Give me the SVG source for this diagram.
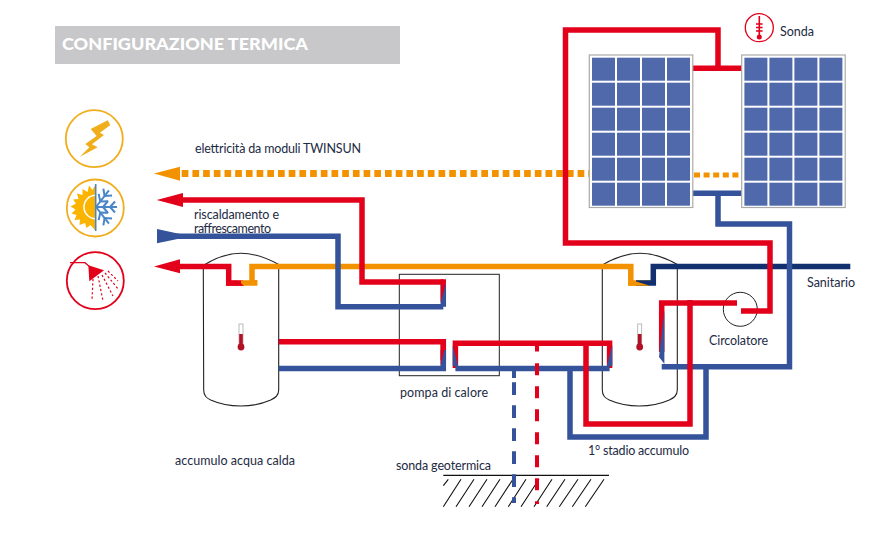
<svg xmlns="http://www.w3.org/2000/svg" width="879" height="534" viewBox="0 0 879 534">
<style>
text{font-family:"Lato","Liberation Sans",sans-serif;font-size:12.5px;fill:#1d2a44}
.p{fill:none;stroke-width:5.5;stroke-linejoin:miter}
.r{stroke:#e2001a}.b{stroke:#35539b}.o{stroke:#f39200}.n{stroke:#12306f}
.tank{fill:none;stroke:#222;stroke-width:1.1}
.cell{fill:#4f69ab}
.frame{fill:#fff;stroke:#aaa;stroke-width:1.2}
.fr{fill:#e2001a}.fb{fill:#35539b}.fo{fill:#f39200}.fn{fill:#12306f}
</style>
<defs>
<g id="col">
<rect class="cell" x="2.7" y="2.7" width="23" height="23"/><rect class="cell" x="2.7" y="27.7" width="23" height="23"/><rect class="cell" x="2.7" y="52.7" width="23" height="23"/><rect class="cell" x="2.7" y="77.7" width="23" height="23"/><rect class="cell" x="2.7" y="102.7" width="23" height="23"/><rect class="cell" x="2.7" y="127.7" width="23" height="23"/>
</g>
<g id="panel">
<rect class="frame" x="0" y="0" width="103.5" height="152.5"/>
<use href="#col"/><use href="#col" x="25"/><use href="#col" x="50"/><use href="#col" x="75"/>
</g>
<g id="thermo">
<rect x="-2" y="0" width="4" height="22" fill="#fff" stroke="#aaa" stroke-width="0.8"/>
<rect x="-1.8" y="10" width="3.6" height="14" fill="#b30f25"/>
<circle cx="0" cy="23" r="3.4" fill="#b30f25"/>
</g>
<g id="branch" fill="none" stroke="#4a86c8" stroke-width="2">
<path d="M96 207H117"/>
<path d="M103 207L108 201M103 207L108 213M110 207L115 201.5M110 207L115 212.5"/>
</g>
</defs>

<g id="title">
<rect x="55" y="26" width="345" height="38" fill="#c8c8ca"/>
<text x="62" y="50" style="font-size:17px;font-weight:900;fill:#fff" textLength="246" lengthAdjust="spacingAndGlyphs">CONFIGURAZIONE TERMICA</text>
</g>

<g id="icon-elettricita">
<circle cx="94.3" cy="138.7" r="28.5" fill="#fff" stroke="#f0ae1c" stroke-width="1.8"/>
<polygon transform="translate(60 105) scale(.3333)" points="143,46 151,60 120,83 132,90 96,118 113,127 60,155 88,127 76,117 110,93 92,72" fill="#f0ae1c"/>
</g>
<g id="icon-clima">
<circle cx="95.3" cy="208" r="28.5" fill="#fff" stroke="#f0ae1c" stroke-width="1.8"/>
<polygon points="95.7,184 92.5,190 89,185.5 87.5,192 82.5,189 82.5,195 77,193.5 78.5,199 73,199.5 76,203.5 70.5,206.5 75.5,209.5 71.5,213.5 76.5,215 74.5,220 80,219.5 79.5,225 85,223 86.5,228 90.5,225 95.7,231" fill="#fbb400"/>
<path d="M95.7 194.5a12.5 12.5 0 0 0 0 25z" fill="#fff"/>
<path d="M95.7 196a11 11 0 0 0 0 22z" fill="#fbb400"/>
<path d="M95.7 184V231" stroke="#4a86c8" stroke-width="1.6" fill="none"/>
<use href="#branch" transform="rotate(-52 96 207)"/>
<use href="#branch"/>
<use href="#branch" transform="rotate(52 96 207)"/>
</g>
<g id="icon-sanitario">
<circle cx="95.3" cy="280.7" r="28.5" fill="#fff" stroke="#e2001a" stroke-width="1.8"/>
<path d="M70 262.7H85L90 267" fill="none" stroke="#e2001a" stroke-width="1.2"/>
<polygon points="88.3,265.3 104,270.3 89.3,281.3" fill="#e2001a"/>
<g stroke="#e2001a" stroke-width="1.2" fill="none" stroke-dasharray="2.2 2.2">
<path d="M93 279L92 300M98 276L103 301M102 275L113 296M105 273L119 290M108 271L118 281"/>
</g>
</g>

<g id="tank-left">
<path class="tank" d="M203.3 265.5C215 258 228 253.3 241 253.3S267 258 278.7 264.5V390c0 6-4 8-8 10c-18 8-42 8-60 0c-4-2-7-4-7-10z"/>
<use href="#thermo" x="241" y="324"/>
</g>
<g id="tank-right">
<path class="tank" d="M602.3 265C614 258 627 253.3 640 253.3S666 258 677.3 264.5V390c0 6-4 8-8 10c-18 8-42 8-60 0c-4-2-7-4-7-10z"/>
<use href="#thermo" x="639.7" y="324"/>
</g>
<g id="pompa">
<rect x="399.3" y="274.3" width="100" height="101.4" fill="none" stroke="#222" stroke-width="1"/>
</g>
<g id="circolatore">
<circle cx="740.3" cy="309.3" r="17" fill="none" stroke="#222" stroke-width="1"/>
</g>
<g id="ground">
<path d="M443.3 475.3H609" stroke="#111" stroke-width="1.3" fill="none"/>
<path d="M443.3 485.7L448.3 479.3M443.3 506.7L461 479.3M456 506.7L474 479.3M469 506.7L487 479.3M482 506.7L500 479.3M495 506.7L513 479.3M508.3 506.7L526 479.3M521 506.7L539 479.3M534 506.7L552 479.3M546.7 506.7L565 479.3M559.3 506.7L578 479.3M572.3 506.7L591 479.3M585.3 506.7L604 479.3" stroke="#111" stroke-width="1.1" fill="none"/>
</g>

<g id="connectors">
<path d="M181.7 173.5H589" fill="none" stroke="#f39200" stroke-width="7" stroke-dasharray="6.7 4"/>
<polygon class="fo" points="154,173.5 180,166.7 180,180.7"/>
<path d="M694 175H742" fill="none" stroke="#f39200" stroke-width="5" stroke-dasharray="6 3.6"/>

<path class="p o" d="M252 283V266.5H630.8V283H650"/>
<path class="p n" d="M636 283H653.3V266.5H850.3"/>
<polygon class="fo" points="628.3,280.7 633.5,280.7 650,285.7 628.3,285.7"/>
<path class="p r" d="M180 266.5H228.7V283H243"/>
<path class="p o" d="M241 283H254.7V280"/>
<polygon class="fr" points="226,280.7 238,280.7 244,285.7 226,285.7"/>
<polygon class="fr" points="154,266.5 180,259.3 180,273.3"/>

<path class="p b" d="M172 236.3H338V306.8H443.3"/>
<path class="p r" d="M180 200H362V282H443.3"/>
<polygon class="fb" points="157,229 180,234 180,238.6 157,243.3"/>
<polygon class="fr" points="156.7,200 183,193 183,207"/>

<g id="pipes-pompa">
<path class="p r" d="M278.7 341.8H443.3V360"/>
<path class="p b" d="M278.7 368.4H443.3V350"/>
<polygon class="fr" points="440.6,339 446,339 446,343 440.6,366"/>
<path class="p b" d="M443.3 284V306.8"/>
<polygon class="fr" points="440.6,279.3 446,279.3 446,283 440.6,303"/>
<path class="p r" d="M455.4 368V343.3H609.6V368"/>
<path class="p b" d="M455.4 368.5H609.6"/>
<polygon class="fb" points="452.7,345 458,366 452.7,366"/>
<polygon class="fb" points="612.3,345 606.9,366 612.3,366"/>
</g>

<path class="p b" d="M570 368.5V437H706V366.7"/>
<path class="p b" d="M661.7 366.7H789.5V224H718V193.3"/>
<path class="p b" d="M692 193.3H743"/>
<path class="p r" d="M737 303H661.7V352"/>
<polygon class="fb" points="664.4,310 664.4,364 659,357"/>
<path class="p r" d="M741 311H770V243H565.5V30H718V68"/>
<path class="p r" d="M692 68.3H742"/>
<path class="p r" d="M690 300V424H586V343.5"/>

<path d="M514 371V378M514 382.3V503" fill="none" stroke="#35539b" stroke-width="4" stroke-dasharray="12.7 10.3"/>
<path d="M537 345V351.6M537 363.3V504" fill="none" stroke="#e2001a" stroke-width="4" stroke-dasharray="12 11"/>
</g>

<g id="panel-left"><use href="#panel" x="589.3" y="55"/></g>
<g id="panel-right"><use href="#panel" x="741.7" y="55"/></g>

<g id="sonda">
<circle cx="759.3" cy="27.7" r="14" fill="#fff" stroke="#e2001a" stroke-width="1.3"/>
<path d="M759.3 16V36M756 24H762.6M756 27.5H762.6M756 31H762.6" stroke="#e2001a" stroke-width="1.6" fill="none"/>
<circle cx="759.3" cy="37" r="2.5" fill="#e2001a"/>
<text x="780" y="36" textLength="34">Sonda</text>
</g>

<g id="labels">
<text x="195" y="153" textLength="166">elettricità da moduli TWINSUN</text>
<text x="194" y="219" textLength="85">riscaldamento e</text>
<text x="194" y="233" textLength="77">raffrescamento</text>
<text x="807" y="287" textLength="48">Sanitario</text>
<text x="709" y="345" textLength="59">Circolatore</text>
<text x="400" y="397" textLength="88">pompa di calore</text>
<text x="396" y="470" textLength="95">sonda geotermica</text>
<text x="175" y="465" textLength="120">accumulo acqua calda</text>
<text x="588" y="455" textLength="101">1° stadio accumulo</text>
</g>
</svg>
